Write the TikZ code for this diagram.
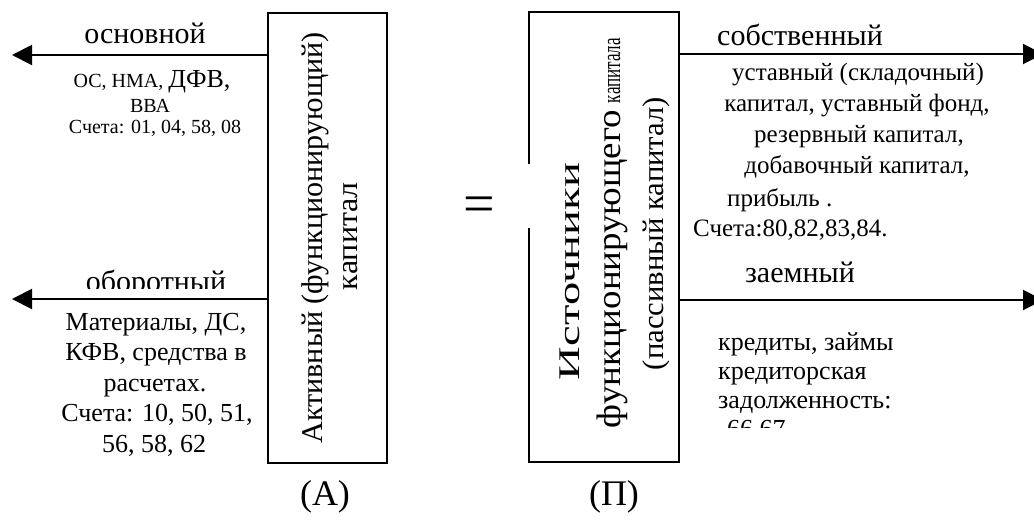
\documentclass[tikz,border=0pt]{standalone}
\usepackage{fontspec}
\setmainfont{Liberation Serif}
\usepackage{graphicx}
\usetikzlibrary{arrows.meta}
\newcommand{\fs}[1]{\fontsize{#1}{#1}\selectfont}
% set text at a given size and stretch it to a given length
\newcommand{\fitto}[3]{{\fs{#2}\resizebox{#1pt}{\height}{#3}}}
\tikzset{
  frame/.style={draw, line width=2pt, inner sep=0pt},
  edge/.style={line width=2pt},
  arr/.style={line width=2pt, -{Triangle[length=20pt,width=20pt]}},
  lbl/.style={anchor=base, inner sep=0pt},
  lbll/.style={anchor=base west, inner sep=0pt},
  vlbl/.style={anchor=base, inner sep=0pt, rotate=90},
}
\begin{document}
\begin{tikzpicture}[x=1pt,y=-1pt]
\useasboundingbox (0,0) rectangle (1034,520);
\clip (0,0) rectangle (1034,520);
\fill[white] (0,0) rectangle (1034,520);

% the two boxes
\node[frame, minimum width=119pt, minimum height=450pt] (act) at (327.5,238) {};
\node[inner sep=0pt, minimum width=150pt, minimum height=450pt] (src) at (604,237) {};
\coordinate (gapa) at (0,164);
\coordinate (gapb) at (0,228);
\draw[edge] (src.west |- gapa) -- (src.north west) -- (src.north east)
  -- (src.south east) -- (src.south west) -- (src.west |- gapb);

% box captions
\node[vlbl] (actA) at (322,238) {\fitto{411}{30}{Активный (функционирующий)}};
\node[vlbl] (actB) at (357,236) {\fitto{108}{30}{капитал}};
\node[vlbl] (srcA) at (579,271.5) {\fitto{217}{30}{Источники}};
\node[vlbl] (srcB) at (620,269) {\fitto{318}{34}{функционирующего}};
\node[vlbl] (srcC) at (620,70.5) {\fitto{65}{26}{капитала}};
\node[vlbl] (srcD) at (663,233.5) {\fitto{273}{30}{(пассивный капитал)}};

% equality sign
\node[inner sep=0pt] (eq) at (479,209.5) {\fs{56}=};

% arrows
\coordinate (tipOs) at (12,55);
\coordinate (tipOb) at (12,299);
\coordinate (tipSo) at (1043,54);
\coordinate (tipZa) at (1043,300);
\draw[arr] (tipOs -| act.west) -- (tipOs);
\draw[arr] (tipOb -| act.west) -- (tipOb);
\draw[arr] (tipSo -| src.east) -- (tipSo);
\draw[arr] (tipZa -| src.east) -- (tipZa);

% fixed capital
\node[lbl] (osn) at (145,43) {\fs{30}основной};
\node[lbl] (os1) at (152,87) {\fs{20}ОС, НМА, {\fs{26}ДФВ,}};
\node[lbl] (os2) at (150,112) {\fs{20}ВВА};
\node[lbl] (os3) at (155,133) {\fs{20}Счета: 01, 04, 58, 08};

% working capital
\begin{scope}
  \clip (0,0) rectangle (268,288);
  \node[lbl] (obo) at (156,291) {\fs{30}оборотный};
\end{scope}
\node[lbl] (ob1) at (156,330) {\fs{26}Материалы, ДС,};
\node[lbl] (ob2) at (156,360.5) {\fs{26}КФВ, средства в};
\node[lbl] (ob3) at (155,391) {\fs{26}расчетах.};
\node[lbl] (ob4) at (157,421.5) {\fs{26}Счета: 10, 50, 51,};
\node[lbl] (ob5) at (154,452) {\fs{26}56, 58, 62};

% own capital
\node[lbl] (sob) at (800,45) {\fs{30}собственный};
\node[lbl] (so1) at (858,80) {\fs{25}уставный (складочный)};
\node[lbl] (so2) at (857,111) {\fs{25}капитал, уставный фонд,};
\node[lbl] (so3) at (859,142) {\fs{25}резервный капитал,};
\node[lbl] (so4) at (857,173) {\fs{25}добавочный капитал,};
\node[lbll] (so5) at (727,206) {\fs{25}прибыль .};
\node[lbll] (so6) at (693,236) {\fs{25}Счета:80,82,83,84.};

% borrowed capital
\node[lbl] (zae) at (800,282) {\fs{30}заемный};
\node[lbll] (za1) at (718,350) {\fs{26}кредиты, займы};
\node[lbll] (za2) at (718,379) {\fs{26}кредиторская};
\node[lbll] (za3) at (718,408) {\fs{26}задолженность:};
\begin{scope}
  \clip (680,415) rectangle (1034,427);
  \node[lbll] (za4) at (727,437) {\fs{26}66,67};
\end{scope}

% side markers
\node[lbl] (mA) at (325,505) {\fs{36}(А)};
\node[lbl] (mP) at (614,505) {\fs{36}(П)};
\end{tikzpicture}
\end{document}
